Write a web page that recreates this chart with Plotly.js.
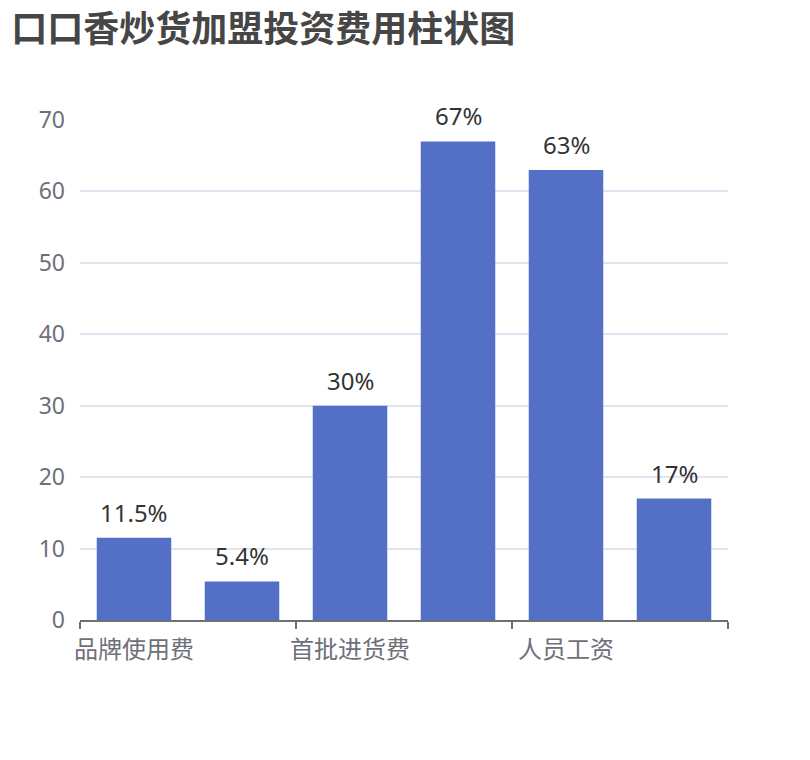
<!DOCTYPE html>
<html>
<head>
<meta charset="utf-8">
<script src="https://cdn.plot.ly/plotly-3.0.1.min.js"></script>
<style>
  body { margin: 0; background: #fff; }
  #chart { width: 810px; height: 760px; }
</style>
</head>
<body>
<div id="chart"></div>
<script>
// 费用项目（只显示偶数位标签，与原图一致）
var categories = ['品牌使用费', '加盟保证金', '首批进货费', '店面租金', '人员工资', '装修费用'];
var values = [11.5, 5.4, 30, 67, 63, 17];
var valueLabels = ['11.5%', '5.4%', '30%', '67%', '63%', '17%'];
var yTicks = [0, 10, 20, 30, 40, 50, 60, 70];

var idx = categories.map(function (c, i) { return i; });
var shownIdx = idx.filter(function (i) { return i % 2 === 0; });
var boundaries = shownIdx.map(function (i) { return i - 0.5; }).concat([categories.length - 0.5]);

var font = '"Noto Sans", "Noto Sans CJK SC", sans-serif';

var trace = {
    type: 'bar',
    x: idx,
    y: values,
    marker: { color: '#5470c6' },
    hoverinfo: 'y'
};

var labels = idx.map(function (i) {
    return {
        x: i,
        y: values[i],
        text: valueLabels[i],
        showarrow: false,
        yanchor: 'bottom',
        yshift: 7,
        font: { family: font, size: 24, color: '#333333' }
    };
});

var layout = {
    width: 810,
    height: 760,
    margin: { l: 80, r: 82, t: 120, b: 140 },
    paper_bgcolor: '#ffffff',
    plot_bgcolor: '#ffffff',
    showlegend: false,
    bargap: 0.31,
    title: {
        text: '<b>口口香炒货加盟投资费用柱状图</b>',
        x: 0.014,
        xanchor: 'left',
        y: 0.978,
        yanchor: 'top',
        font: { family: '"Noto Sans CJK SC", sans-serif', size: 36, color: '#464646' }
    },
    xaxis: {
        range: [-0.5, categories.length - 0.5],
        tickmode: 'array',
        tickvals: shownIdx,
        ticktext: shownIdx.map(function (i) { return categories[i]; }),
        ticks: '',
        ticklabelstandoff: 8,
        showgrid: false,
        zeroline: false,
        showline: true,
        linecolor: '#6e7079',
        linewidth: 1.5,
        tickfont: { family: '"Noto Sans CJK SC", sans-serif', size: 24, color: '#6e7079' },
        minor: {
            tickmode: 'array',
            tickvals: boundaries,
            ticks: 'outside',
            ticklen: 7,
            tickcolor: '#6e7079',
            tickwidth: 1.5,
            showgrid: false
        },
        fixedrange: true
    },
    yaxis: {
        range: [0, 70],
        tickmode: 'array',
        tickvals: yTicks,
        showgrid: true,
        gridcolor: '#e0e6f1',
        gridwidth: 2,
        zeroline: false,
        showline: false,
        ticks: '',
        ticklabelstandoff: 14,
        tickfont: { family: font, size: 23, color: '#6e7079' },
        fixedrange: true
    },
    annotations: labels
};

Plotly.newPlot('chart', [trace], layout, { displayModeBar: false, staticPlot: true });
</script>
</body>
</html>
